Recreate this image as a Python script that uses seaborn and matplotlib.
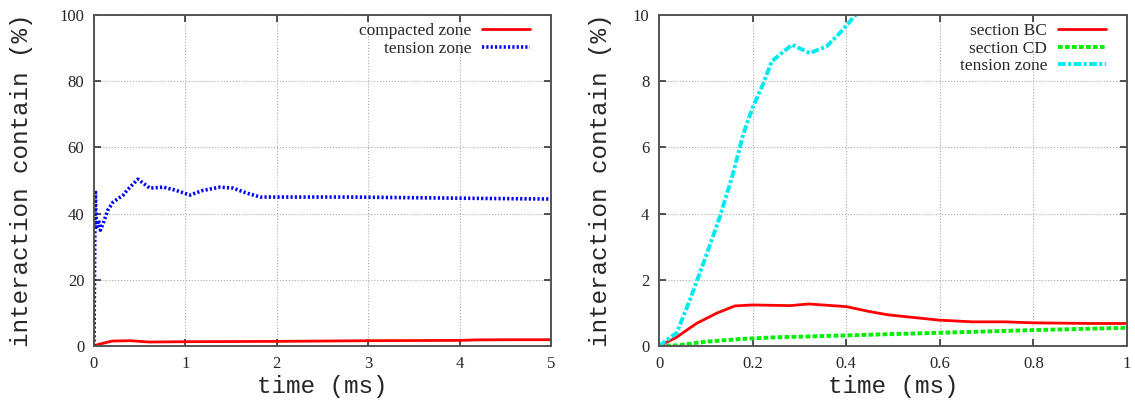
import seaborn as sns
import matplotlib
matplotlib.use('Agg')
import matplotlib.pyplot as plt
from matplotlib.ticker import FuncFormatter

## left panel: whole run, 0..5 ms
t_left_compact = [0, 0.05, 0.2, 0.4, 0.6, 1.0, 1.5, 2.0, 2.5, 3.0, 3.5, 4.0, 4.2, 4.6, 5.0]
compacted_zone = [0, 0.5, 1.5, 1.6, 1.2, 1.3, 1.35, 1.4, 1.5, 1.6, 1.65, 1.7, 1.85, 1.9, 1.9]

t_left_tension = [0, 0.005, 0.01, 0.015, 0.02, 0.03, 0.05, 0.07, 0.1, 0.15, 0.21, 0.32, 0.36,
                  0.48, 0.61, 0.76, 0.9, 1.05, 1.19, 1.38, 1.52, 1.67, 1.82, 2.2, 2.8, 3.5, 4.2, 5.0]
tension_zone_left = [0, 20, 38, 47, 41, 36, 38, 35, 37, 41, 43.5, 45.6, 47,
                     50.4, 47.7, 48, 47, 45.6, 47, 48, 47.7, 46.2, 45, 45, 45, 44.8, 44.6, 44.4]

## right panel: zoom on 0..1 ms
t_bc = [0, 0.036, 0.08, 0.123, 0.162, 0.2, 0.28, 0.32, 0.4, 0.45, 0.49, 0.6, 0.67, 0.74, 0.8, 0.93, 1.0]
section_bc = [0, 0.25, 0.68, 0.99, 1.21, 1.24, 1.22, 1.27, 1.19, 1.04, 0.94, 0.78, 0.73, 0.73, 0.70, 0.68, 0.68]

t_cd = [0, 0.038, 0.1, 0.173, 0.244, 0.4, 0.6, 0.8, 1.0]
section_cd = [0, 0.02, 0.13, 0.21, 0.26, 0.32, 0.40, 0.48, 0.55]

t_tz = [0, 0.038, 0.066, 0.1, 0.13, 0.158, 0.18, 0.2, 0.222, 0.241, 0.284, 0.322, 0.358, 0.386, 0.42, 0.46, 0.5]
tension_zone_right = [0, 0.4, 1.39, 2.7, 3.9, 5.2, 6.4, 7.2, 7.9, 8.6, 9.1, 8.85, 9.05, 9.45, 10.0, 10.8, 11.5]

sns.set_style('ticks')
plt.rcParams['font.family'] = ['Liberation Serif', 'DejaVu Serif']
plt.rcParams['axes.edgecolor'] = '#555555'
plt.rcParams['axes.linewidth'] = 1.4

fig = plt.figure(figsize=(11.35, 4.03), dpi=100)
ax1 = fig.add_axes([94 / 1135., 57 / 403., 457 / 1135., 331 / 403.])
ax2 = fig.add_axes([659 / 1135., 57 / 403., 468 / 1135., 331 / 403.])

sns.lineplot(x=t_left_compact, y=compacted_zone, ax=ax1, color='#ff0000', lw=2.0,
             label='compacted zone')
sns.lineplot(x=t_left_tension, y=tension_zone_left, ax=ax1, color='#0000ff', lw=2.6,
             linestyle=(0, (0.6, 0.6)), label='tension zone')

sns.lineplot(x=t_bc, y=section_bc, ax=ax2, color='#ff0000', lw=2.0, label='section BC')
sns.lineplot(x=t_cd, y=section_cd, ax=ax2, color='#00ee00', lw=2.8,
             linestyle=(0, (1.2, 0.6)), label='section CD')
sns.lineplot(x=t_tz, y=tension_zone_right, ax=ax2, color='#00eaf2', lw=2.8,
             linestyle=(0, (2.0, 0.6, 0.8, 0.6)), label='tension zone')

fmt = FuncFormatter(lambda v, p: '%g' % v)
for ax, xmax, ymax, xstep, ystep, lpad in [(ax1, 5, 100, 1, 20, 19), (ax2, 1, 10, 0.2, 2, 15)]:
    ax.set_xlim(0, xmax)
    ax.set_ylim(0, ymax)
    n = int(round(xmax / xstep))
    ax.set_xticks([i * xstep for i in range(n + 1)])
    m = int(round(ymax / ystep))
    ax.set_yticks([i * ystep for i in range(m + 1)])
    ax.xaxis.set_major_formatter(fmt)
    ax.yaxis.set_major_formatter(fmt)
    ax.grid(True, color='#aaaaaa', linestyle=':', lw=0.8)
    ax.tick_params(direction='in', top=True, right=True, length=5, width=1.2,
                   labelsize=12, color='#333333', pad=7)
    for s in ax.spines.values():
        s.set_visible(True)
    ax.set_xlabel('time (ms)', family='Liberation Mono', fontsize=17.5, labelpad=2)
    ax.set_ylabel('interaction contain (%)', family='Liberation Mono', fontsize=17.5, labelpad=lpad)
    w = ax.get_position().width * 1135
    ax.legend(loc='upper right', frameon=False, markerfirst=False, fontsize=12.5,
              handlelength=2.75, labelspacing=0.08, borderpad=0, borderaxespad=0,
              handletextpad=0.63, bbox_to_anchor=(1 - 21 / w, 1 - 8 / 331.))

plt.savefig('out.png', dpi=100)
